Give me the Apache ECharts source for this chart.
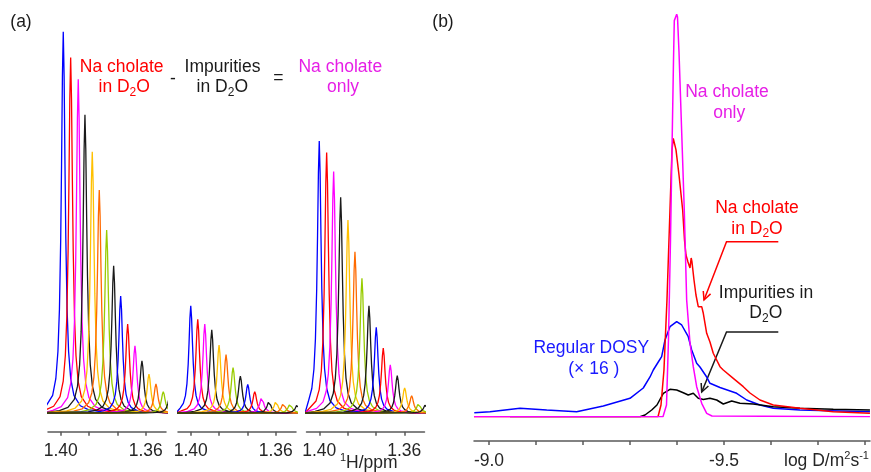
<!DOCTYPE html>
<html><head><meta charset="utf-8">
<script src="https://cdn.jsdelivr.net/npm/echarts@6/dist/echarts.min.js"></script>
<style>html,body{margin:0;padding:0;background:#fff}#c{width:871px;height:472px}</style>
</head><body><div id="c"></div>
<script>
// ---------- Panel (a): 1H spectra (peak apex positions in ppm and heights, tallest = 100) ----------
const TRACE_COLORS = ['#0000ff','#ff0000','#ff00ff','#1a1a1a','#ffc000','#ff6a00','#99cc00','#1a1a1a'];
const G1_PPM = [1.39882,1.39534,1.39177,1.38862,1.38518,1.38189,1.37841,1.37512,1.37182,1.36853,1.36510,1.36181,1.35851,1.35522,1.35179,1.34849];
const G1_INT = [100,93.2,87.5,78.2,68.5,58.5,48.0,38.6,30.7,23.3,17.6,13.7,10.2,7.6,5.6,5.2];
const G2_PPM = [1.40000,1.39671,1.39341,1.39012,1.38669,1.38340,1.38010,1.37667,1.37319,1.36990,1.36660,1.36317,1.35988,1.35644,1.35329,1.34986];
const G2_INT = [28.1,24.6,23.3,21.8,17.8,15.3,11.9,9.7,7.5,5.6,4.3,3.1,3.1,2.5,2.4,2.2];
const G3_PPM = [1.40000,1.39652,1.39323,1.38993,1.38650,1.38321,1.37992,1.37662,1.37319,1.36990,1.36660,1.36331,1.35983,1.35654,1.35324,1.34995];
const G3_INT = [71.3,68.3,63.3,56.6,50.6,42.3,35.3,28.1,22.5,17.0,12.6,9.8,6.6,4.5,2.5,2.3];
const WINDOW_START = [1.4084,1.4069,1.4067];
const WINDOW_END = [1.3449,1.3462,1.3470];
// line profile read from the tallest peak (ppm offset from apex, fraction of apex height)
const PROFILE_OFF = [-0.012,-0.008,-0.005,-0.0035,-0.0025,-0.0018,-0.0012,-0.0008,-0.0004,0,0.0004,0.0008,0.0012,0.0018,0.0025,0.0035,0.005,0.008,0.012];
const PROFILE_REL = [0.008,0.019,0.046,0.090,0.162,0.272,0.457,0.654,0.883,1,0.883,0.654,0.457,0.272,0.162,0.090,0.046,0.019,0.008];
const PPM_TICKS = [1.40,1.38667,1.37333,1.36];
const PPM_LABELS = [1.40,1.36];

// ---------- Panel (b): DOSY projections (log D, intensity; Na cholate only peak = 100) ----------
const ONLY_LOGD = [-8.9681,-9.3702,-9.3723,-9.3777,-9.3819,-9.3862,-9.3894,-9.3926,-9.3943,-9.3994,-9.4011,-9.4043,-9.4113,-9.4155,-9.4206,-9.4277,-9.4347,-9.4419,-9.4526,-9.4632,-9.4745,-9.8106];
const ONLY_INT  = [0,0,0.4,2.91,19.06,43.91,66.29,88.64,98.43,100,99.33,90.63,66.29,51.37,29.00,18.31,12.43,7.46,3.33,0.84,0.17,0];
const D2O_LOGD = [-8.9681,-9.3596,-9.3660,-9.3723,-9.3787,-9.3851,-9.3894,-9.3921,-9.3979,-9.4043,-9.4121,-9.4160,-9.4191,-9.4234,-9.4277,-9.4302,-9.4319,-9.4362,-9.4404,-9.4453,-9.4526,-9.4560,-9.4632,-9.4702,-9.4772,-9.4915,-9.4985,-9.5198,-9.5411,-9.5553,-9.5766,-9.6049,-9.6617,-9.7326,-9.8106];
const D2O_INT  = [0,0,2.91,11.61,29.00,51.37,66.29,69.18,66.29,60.07,51.37,43.91,40.18,38.44,36.95,39.44,38.44,33.97,30.24,27.34,27.34,25.70,20.73,18.56,15.76,12.43,11.61,9.54,7.46,5.89,4.15,2.91,2.09,1.24,0.84];
const REG_LOGD = [-8.9687,-9.0021,-9.0660,-9.1228,-9.1866,-9.2432,-9.3000,-9.3283,-9.3426,-9.3496,-9.3602,-9.3674,-9.3745,-9.3851,-9.3994,-9.4100,-9.4240,-9.4313,-9.4419,-9.4489,-9.4632,-9.4702,-9.4915,-9.5270,-9.5483,-9.5766,-9.6049,-9.6617,-9.8106];
const REG_INT  = [0.99,1.24,2.09,1.66,1.24,2.66,4.57,7.13,9.87,11.61,13.59,14.91,19.06,22.37,23.61,22.79,19.88,16.58,13.27,12.35,9.87,8.30,7.26,5.82,4.15,2.91,2.09,1.66,1.24];
const IMP_LOGD = [-9.0447,-9.3213,-9.3319,-9.3462,-9.3574,-9.3709,-9.3851,-9.3994,-9.4134,-9.4240,-9.4347,-9.4453,-9.4560,-9.4702,-9.4845,-9.4985,-9.5164,-9.5340,-9.5623,-9.6049,-9.6617,-9.7326,-9.8106];
const IMP_INT  = [0,0,0.42,1.66,2.91,5.82,6.81,6.64,5.96,5.39,5.82,4.57,4.27,4.57,4.15,3.16,3.90,3.33,3.16,2.49,2.09,1.84,1.66];
const LOGD_TICKS = [-9.0,-9.1,-9.2,-9.3,-9.4,-9.5,-9.6,-9.7,-9.8];
const LOGD_LABELS = [-9.0,-9.5];

const FONT = '"Liberation Sans", Arial, sans-serif';
const FS = 17.5;
const chart = echarts.init(document.getElementById('c'));

const groups = [[G1_PPM,G1_INT],[G2_PPM,G2_INT],[G3_PPM,G3_INT]];
const series = [];
groups.forEach(([ppm, inten], g) => {
  ppm.forEach((c, i) => {
    const pts = [[WINDOW_START[g], 0]];
    PROFILE_OFF.forEach((o, k) => {
      const x = c - o;
      if (x < WINDOW_START[g] && x > WINDOW_END[g]) pts.push([x, inten[i] * PROFILE_REL[k]]);
    });
    pts.push([WINDOW_END[g], 0]);
    series.push({type:'line', xAxisIndex:g, yAxisIndex:g, data:pts, symbol:'none', clip:false,
      silent:true, animation:false, lineStyle:{color:TRACE_COLORS[i % 8], width:1.3}});
  });
});
const zip = (a, b) => a.map((v, i) => [v, b[i]]);
[[REG_LOGD,REG_INT,'#0000ff'],[IMP_LOGD,IMP_INT,'#000000'],[D2O_LOGD,D2O_INT,'#ff0000'],[ONLY_LOGD,ONLY_INT,'#ff00ff']]
  .forEach(([x, y, col]) => series.push({type:'line', xAxisIndex:3, yAxisIndex:3, data:zip(x, y), symbol:'none',
    silent:true, animation:false, lineStyle:{color:col, width:1.5}}));

const axisCol = '#595959';
const ppmAxis = (i) => ({gridIndex:i, type:'value', inverse:true, min:1.3505, max:1.4060, offset:18.7,
  axisLine:{onZero:false, lineStyle:{color:axisCol, width:1.5}},
  axisTick:{customValues:PPM_TICKS, length:4, lineStyle:{color:axisCol, width:1.5}},
  axisLabel:{customValues:PPM_LABELS, formatter:v => v.toFixed(2), color:'#262626', fontSize:FS, fontFamily:FONT, margin:10},
  splitLine:{show:false}});
const hiddenY = i => ({gridIndex:i, type:'value', min:0, max:100, show:false});

function txt(x, y, text, color, align) {
  return {type:'text', x:x, y:y, silent:true, style:{text:text, fill:color, fontSize:FS, fontFamily:FONT,
    align:align || 'center', verticalAlign:'middle', lineHeight:22,
    rich:{sub:{fontSize:12, fontFamily:FONT, fill:color, lineHeight:12, verticalAlign:'bottom'},
          sup:{fontSize:11, fontFamily:FONT, fill:color, lineHeight:11, verticalAlign:'top'}}}};
}
function arrow(pts, color) {
  const n = pts.length, a = pts[n-2], b = pts[n-1];
  const dx = a[0]-b[0], dy = a[1]-b[1], L = Math.hypot(dx, dy), ux = dx/L, uy = dy/L;
  const h = 9, ang = 0.45;
  const r = s => [b[0] + h*(ux*Math.cos(s) - uy*Math.sin(s)), b[1] + h*(ux*Math.sin(s) + uy*Math.cos(s))];
  return [
    {type:'polyline', silent:true, shape:{points:pts}, style:{stroke:color, lineWidth:1.5, fill:null}},
    {type:'polyline', silent:true, shape:{points:[r(ang), b, r(-ang)]}, style:{stroke:color, lineWidth:1.5, fill:null}}
  ];
}

const RED = '#ff0000', MAG = '#e61ee6', BLK = '#1a1a1a', BLU = '#1a1aff';
const graphics = [
  txt(21, 22, '(a)', BLK), txt(443, 22, '(b)', BLK),
  txt(121.7, 67.3, 'Na cholate', RED), txt(124.2, 87.3, 'in D{sub|2}O', RED),
  txt(173, 79, '-', BLK),
  txt(222.5, 66.7, 'Impurities', BLK), txt(222.3, 87.3, 'in D{sub|2}O', BLK),
  txt(278.3, 78.3, '=', BLK),
  txt(340.3, 67.3, 'Na cholate', MAG), txt(343, 87.3, 'only', MAG),
  txt(340, 463, '{sup|1}H/ppm', '#262626', 'left'),
  txt(727, 92, 'Na cholate', MAG), txt(729.2, 113.3, 'only', MAG),
  txt(757, 207.7, 'Na cholate', RED), txt(757, 228.7, 'in D{sub|2}O', RED),
  txt(766, 292.7, 'Impurities in', BLK), txt(765.8, 313.3, 'D{sub|2}O', BLK),
  txt(591.3, 348.3, 'Regular DOSY', BLU), txt(593.8, 369.3, '(\u00d7 16 )', BLU),
  txt(784, 461, 'log D/m{sup|2}s{sup|-1}', '#262626', 'left'),
  ...arrow([[778.3,241.7],[726.5,241.7],[704,300]], RED),
  ...arrow([[778.3,332],[726.5,332],[701.7,392]], BLK)
];

chart.setOption({
  animation:false,
  grid:[
    {left:48, width:118, top:31.7, height:381.3},
    {left:178, width:118, top:31.7, height:381.3},
    {left:306.5, width:118, top:31.7, height:381.3},
    {left:474, width:396, top:14.3, height:402.4}
  ],
  xAxis:[ppmAxis(0), ppmAxis(1), ppmAxis(2),
    {gridIndex:3, type:'value', inverse:true, min:-9.8107, max:-8.9681, offset:24.3,
     axisLine:{onZero:false, lineStyle:{color:axisCol, width:1.5}},
     axisTick:{customValues:LOGD_TICKS, length:4, lineStyle:{color:axisCol, width:1.5}},
     axisLabel:{customValues:LOGD_LABELS, formatter:v => v.toFixed(1), color:'#262626', fontSize:FS, fontFamily:FONT, margin:11},
     splitLine:{show:false}}],
  yAxis:[hiddenY(0), hiddenY(1), hiddenY(2), hiddenY(3)],
  series:series,
  graphic:graphics
});
</script></body></html>
